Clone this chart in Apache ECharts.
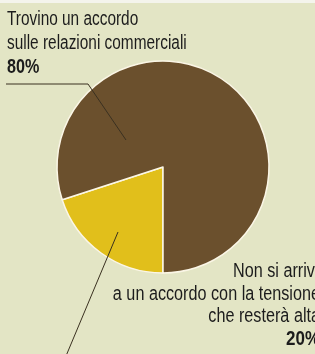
<!DOCTYPE html>
<html>
<head>
<meta charset="utf-8">
<script src="https://cdn.jsdelivr.net/npm/echarts@6/dist/echarts.min.js"></script>
<style>
html, body { margin: 0; padding: 0; background: #e3e5c5; }
#chart { width: 315px; height: 354px; }
</style>
</head>
<body>
<div id="chart"></div>
<script>
// categories and values
var categories = ['Non si arriverà\na un accordo con la tensione\nche resterà alta', 'Trovino un accordo\nsulle relazioni commerciali'];
var values = [20, 80];
var colors = ['#e1bf1b', '#6b502d'];

var total = values.reduce(function (a, b) { return a + b; }, 0);
function pct(v) { return Math.round(v / total * 100) + '%'; }

var myChart = echarts.init(document.getElementById('chart'));

var font = '"Liberation Sans", Arial, sans-serif';
var rich = function (lh) {
    return {
        t: { fontFamily: font, fontSize: 20, lineHeight: lh, fill: '#1c1c1c' },
        b: { fontFamily: font, fontSize: 21, fontWeight: 'bold', lineHeight: lh, fill: '#1c1c1c' }
    };
};

// one text element; scaleX squeezes Liberation Sans to look like a condensed face
function textEl(str, x, y, align, lh, sx) {
    return {
        type: 'text',
        x: x,
        y: y,
        scaleX: sx,
        z: 10,
        silent: true,
        style: { text: str, align: align, verticalAlign: 'top', rich: rich(lh) }
    };
}

function tokens(lines) {
    return lines.map(function (l) { return '{t|' + l + '}'; }).join('\n');
}

var topLines = categories[1].split('\n');
var botLines = categories[0].split('\n');

// leader lines
function leader(points) {
    return {
        type: 'polyline',
        z: 10,
        silent: true,
        shape: { points: points },
        style: { stroke: '#3a3020', lineWidth: 1, fill: null }
    };
}

option = {
    backgroundColor: '#e3e5c5',
    graphic: [
        { type: 'rect', shape: { x: 0, y: 0, width: 315, height: 3 }, style: { fill: '#f4f4ec' } },
        textEl(tokens(topLines) + '\n{b|' + pct(values[1]) + '}', 7, 7.5, 'left', 24, 0.77),
        // first line of the lower label runs past the right edge
        textEl(tokens(botLines.slice(0, 1)), 233, 260, 'left', 22.7, 0.81),
        textEl(tokens(botLines.slice(1)) + '\n{b|' + pct(values[0]) + '}', 320, 282.7, 'right', 22.7, 0.81),
        leader([[126, 140], [88, 84], [6, 84]]),
        leader([[118, 232], [66, 356]])
    ],
    series: [
        {
            type: 'pie',
            center: [163, 167],
            radius: 106,
            startAngle: 270,
            clockwise: true,
            silent: true,
            data: categories.map(function (c, i) {
                return { name: c, value: values[i], itemStyle: { color: colors[i] } };
            }),
            itemStyle: { borderColor: '#fbf6e6', borderWidth: 1.5 },
            label: { show: false },
            labelLine: { show: false }
        }
    ]
};
myChart.setOption(option);
</script>
</body>
</html>
